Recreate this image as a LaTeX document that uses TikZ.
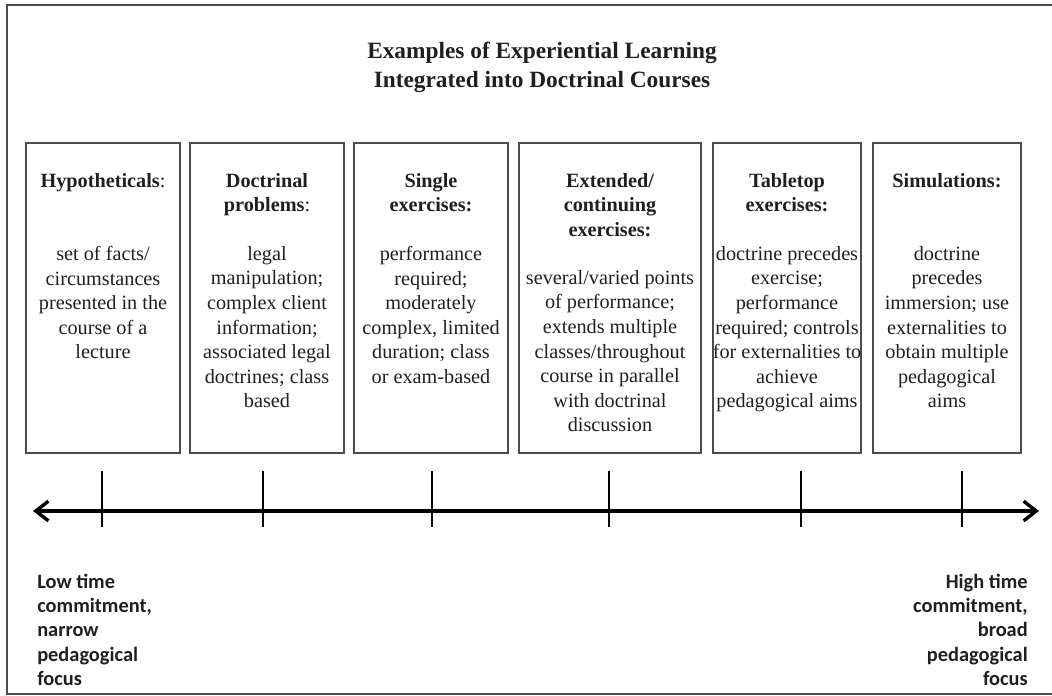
\documentclass[tikz,border=0pt]{standalone}
\usepackage{fontspec}
\setmainfont{Liberation Serif}
\newfontfamily\notefont{Carlito}
\usetikzlibrary{calc,arrows.meta}
\newcommand{\tick}[1]{
\draw[tickline] ($(#1) + (0,-40)$) -- ($(#1) + (0,16)$);
}

\begin{document}
\begin{tikzpicture}[x=0.025cm,y=-0.025cm,
	frame/.style={draw=black!70, line width=1pt},
	catbox/.style={draw=black!70, line width=1pt, minimum height=7.75cm, inner sep=0pt},
	head/.style={font=\fontsize{14.4}{17.5}\selectfont\bfseries, text=black!88, align=center, inner sep=0pt},
	body/.style={font=\fontsize{14.4}{17.5}\selectfont, text=black!88, align=center, inner sep=0pt},
	note/.style={font=\notefont\fontsize{14.5}{17.2}\selectfont\bfseries, text=black!88, inner sep=0pt},
	axisline/.style={line width=2.4pt, arrows={Straight Barb[length=9pt,width=14pt]-Straight Barb[length=9pt,width=14pt]}},
	tickline/.style={line width=1.4pt}]
			\useasboundingbox (0,0) rectangle (1052,696);
			\draw[frame] (1052,5) -| (7,694) -- (1052,694);
			
			\node[head, font=\fontsize{16.6}{20.6}\selectfont\bfseries, anchor=north] (title) at (542,42) {Examples of Experiential Learning\\Integrated into Doctrinal Courses};
			
			% category boxes
			\node[catbox, minimum width=3.85cm] (b1) at (103,298) {};
			\node[catbox, minimum width=3.85cm] (b2) at (267,298) {};
			\node[catbox, minimum width=3.85cm] (b3) at (431,298) {};
			\node[catbox, minimum width=4.55cm] (b4) at (610,298) {};
			\node[catbox, minimum width=3.7cm] (b5) at (787,298) {};
			\node[catbox, minimum width=3.7cm] (b6) at (947,298) {};
			
			\node[head, anchor=north] (h1) at (103,173) {Hypotheticals\textmd{:}};
			\node[head, anchor=north] (h2) at (267,173) {Doctrinal\\problems\textmd{:}};
			\node[head, anchor=north] (h3) at (431,173) {Single\\exercises:};
			\node[head, anchor=north] (h4) at (610,173) {Extended/\\continuing\\exercises:};
			\node[head, anchor=north] (h5) at (787,173) {Tabletop\\exercises:};
			\node[head, anchor=north] (h6) at (947,173) {Simulations:};
			
			\node[body, anchor=north] (d1) at (103,246) {set of facts/\\circumstances\\presented in the\\course of a\\lecture};
			\node[body, anchor=north] (d2) at (267,246) {legal\\manipulation;\\complex client\\information;\\associated legal\\doctrines; class\\based};
			\node[body, anchor=north] (d3) at (431,246) {performance\\required;\\moderately\\complex, limited\\duration; class\\or exam-based};
			\node[body, anchor=north] (d4) at (610,270) {several/varied points\\of performance;\\extends multiple\\classes/throughout\\course in parallel\\with doctrinal\\discussion};
			\node[body, anchor=north] (d5) at (787,246) {doctrine precedes\\exercise;\\performance\\required; controls\\for externalities to\\achieve\\pedagogical aims};
			\node[body, anchor=north] (d6) at (947,246) {doctrine\\precedes\\immersion; use\\externalities to\\obtain multiple\\pedagogical\\aims};
			
			% time axis
			\coordinate (L) at (33,511);
			\coordinate (R) at (1039,511);
			\coordinate (T1) at (102,511);
			\coordinate (T2) at (263,511);
			\coordinate (T3) at (432,511);
			\coordinate (T4) at (609,511);
			\coordinate (T5) at (801,511);
			\coordinate (T6) at (962,511);
			\draw[axisline] (L) -- (R);
			\tick{T1};
			\tick{T2};
			\tick{T3};
			\tick{T4};
			\tick{T5};
			\tick{T6};
			
			\node[note, anchor=north west, align=left] (low) at (37,574) {Low time\\commitment,\\narrow\\pedagogical\\focus};
			\node[note, anchor=north east, align=right] (high) at (1028,574) {High time\\commitment,\\broad\\pedagogical\\focus};
			\end{tikzpicture}
\end{document}
